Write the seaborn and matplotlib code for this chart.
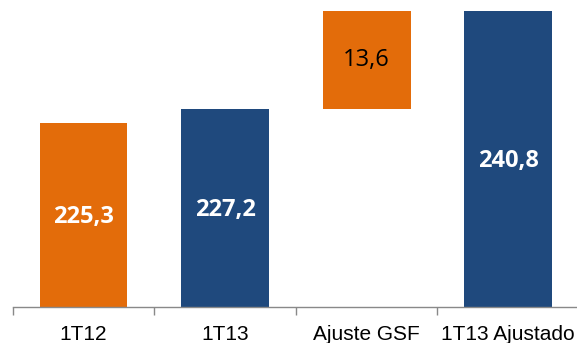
import matplotlib
matplotlib.use("Agg")
import matplotlib.pyplot as plt
import numpy as np
import pandas as pd
import seaborn as sns

# Data
categorias = ["1T12", "1T13", "Ajuste GSF", "1T13 Ajustado"]
valores = [225.3, 227.2, 13.6, 240.8]
flutuante = [False, False, True, False]  # Ajuste GSF floats on top of 1T13
cores = ["#E36C0A", "#1F497D", "#E36C0A", "#1F497D"]

# Waterfall bases: the adjustment starts where 1T13 ends
bases = [0.0, 0.0, valores[1], 0.0]
topos = [b + v for b, v in zip(bases, valores)]

df = pd.DataFrame({"categoria": categorias, "topo": topos, "base": bases, "valor": valores})

sns.set_theme(style="white")
plt.rcParams["font.family"] = ["Liberation Sans", "DejaVu Sans"]

fig = plt.figure(figsize=(5.77, 3.43), dpi=100)
ax = fig.add_axes([0.022, 0.106, 0.9815, 0.894])

sns.barplot(data=df, x="categoria", y="topo", hue="categoria",
            palette=dict(zip(categorias, cores)), legend=False,
            width=0.62, ax=ax, saturation=1, linewidth=0)

# turn the adjustment bar into a floating segment
for patch, base, val, flt in zip(ax.patches, bases, valores, flutuante):
    if flt:
        patch.set_y(base)
        patch.set_height(val)

# value labels in the middle of each visible bar
y_min, y_max = 200, 242.3
for i, (base, val, flt) in enumerate(zip(bases, valores, flutuante)):
    lo = max(base, y_min)
    hi = base + val
    txt = f"{val:.1f}".replace(".", ",")
    if flt:
        ax.text(i, (lo + hi) / 2, txt, ha="center", va="center",
                fontsize=17, color="black", family=["Open Sans", "DejaVu Sans"])
    else:
        ax.text(i, (lo + hi) / 2 - 0.3, txt, ha="center", va="center",
                fontsize=17, color="white", fontweight="bold",
                family=["Open Sans", "DejaVu Sans"])

ax.set_ylim(y_min, y_max)
ax.set_xlim(-0.5, 3.5)
ax.set_xlabel("")
ax.set_ylabel("")
ax.set_yticks([])

# Excel style: tick marks between categories, labels centred
ax.set_xticks(np.arange(-0.5, 4.0, 1.0))
ax.set_xticklabels([])
ax.set_xticks(np.arange(len(categorias)), minor=True)
ax.set_xticklabels(categorias, minor=True, fontsize=15, color="black")
ax.tick_params(axis="x", which="major", length=6, width=1, color="#898989",
               direction="out", bottom=True)
ax.tick_params(axis="x", which="minor", length=0, pad=13, bottom=True)

for side in ["left", "top", "right"]:
    ax.spines[side].set_visible(False)
ax.spines["bottom"].set_color("#898989")
ax.spines["bottom"].set_linewidth(1)

fig.savefig("out.png", dpi=100)
